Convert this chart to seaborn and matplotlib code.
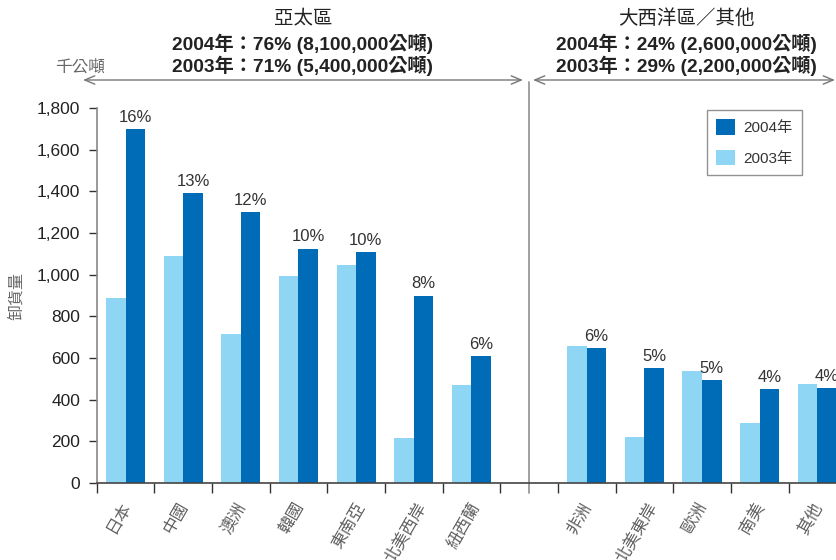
import numpy as np
import pandas as pd
import matplotlib
matplotlib.use("Agg")
import matplotlib.pyplot as plt
from matplotlib.ticker import StrMethodFormatter
from matplotlib.patches import Patch, FancyArrowPatch
from matplotlib.transforms import ScaledTranslation
import seaborn as sns

# ---- data ----
regions = ["日本", "中國", "澳洲", "韓國", "東南亞", "北美西岸", "紐西蘭",
           "非洲", "北美東岸", "歐洲", "南美", "其他"]
n_asia = 7
v2003 = [890, 1090, 715, 995, 1045, 215, 470, 658, 221, 538, 288, 475]
v2004 = [1700, 1390, 1300, 1125, 1110, 900, 610, 648, 552, 494, 451, 456]
share2004 = ["16%", "13%", "12%", "10%", "10%", "8%", "6%",
             "6%", "5%", "5%", "4%", "4%"]
years = ["2003年", "2004年"]
yticks = [0, 200, 400, 600, 800, 1000, 1200, 1400, 1600, 1800]

header_left = ["亞太區", "2004年：76% (8,100,000公噸)", "2003年：71% (5,400,000公噸)"]
header_right = ["大西洋區／其他", "2004年：24% (2,600,000公噸)", "2003年：29% (2,200,000公噸)"]

# ---- style ----
sns.set_theme(style="white")
FAM = ["Liberation Sans", "Noto Sans CJK TC", "DejaVu Sans"]
CJK = ["Noto Sans CJK TC", "DejaVu Sans"]
plt.rcParams["font.family"] = FAM
plt.rcParams["axes.unicode_minus"] = False

LIGHT = "#8fd6f5"
DARK = "#006bb6"

df = pd.DataFrame({
    "地區": regions * 2,
    "年份": [years[0]] * len(regions) + [years[1]] * len(regions),
    "卸貨量": v2003 + v2004,
})
slot_order = regions[:n_asia] + [""] + regions[n_asia:]

W, H = 836, 560
fig = plt.figure(figsize=(W / 100, H / 100), dpi=100)
slot_px = 57.65
ax = fig.add_axes([96.7 / W, 77 / H, 13 * slot_px / W, 375 / H])

sns.barplot(data=df, x="地區", y="卸貨量", hue="年份", order=slot_order,
            hue_order=years, palette=[LIGHT, DARK], width=0.68,
            saturation=1, errorbar=None, ax=ax, legend=False,
            linewidth=0, edgecolor="none")

ax.set_xlim(-0.5, len(slot_order) - 0.5)
ax.set_ylim(0, 1800)
ax.set_yticks(yticks)
ax.yaxis.set_major_formatter(StrMethodFormatter("{x:,.0f}"))
ax.tick_params(axis="y", which="major", length=6, width=1, direction="out",
               color="#333333", labelsize=12.5, labelcolor="#222222", pad=6, left=True)

# x axis: labels at centers, tick marks at boundaries
ax.set_xticks(range(len(slot_order)))
ax.set_xticklabels(slot_order, rotation=60, ha="center", va="top",
                   fontsize=12, color="#606060", family=CJK)
ax.tick_params(axis="x", which="major", length=0, pad=12)
for lbl in ax.get_xticklabels():
    lbl.set_transform(lbl.get_transform() + ScaledTranslation(-7 / 100, 0, fig.dpi_scale_trans))
ax.set_xticks(np.arange(-0.5, len(slot_order), 1), minor=True)
ax.tick_params(axis="x", which="minor", length=7, width=1, direction="out",
               color="#333333", bottom=True)

ax.set_xlabel("")
ax.set_ylabel("卸貨量", fontsize=11.5, color="#666666", family=CJK)
ax.yaxis.set_label_coords((25 - 96.7) / (13 * slot_px), 0.5)

for s in ["top", "right"]:
    ax.spines[s].set_visible(False)
ax.spines["left"].set_color("#888888")
ax.spines["left"].set_linewidth(1.2)
ax.spines["bottom"].set_color("#444444")
ax.spines["bottom"].set_linewidth(1.2)

# percent labels over 2004 bars
bars04 = sorted(ax.containers[1].patches, key=lambda p: p.get_x())
for p, lab in zip(bars04, share2004):
    ax.annotate(lab, (p.get_x() + p.get_width() / 2, p.get_height()),
                xytext=(0, 3), textcoords="offset points", ha="center",
                va="bottom", fontsize=12, color="#333333", annotation_clip=False)

# separator line in the empty slot
sep_x = slot_order.index("")
ax.plot([sep_x, sep_x], [-10 / 375, (483 - 82) / 375],
        transform=ax.get_xaxis_transform(), clip_on=False,
        color="#999999", lw=1.3)

# legend (2004 first)
handles = [Patch(facecolor=DARK, edgecolor="none"),
           Patch(facecolor=LIGHT, edgecolor="none")]
leg = fig.legend(handles, ["2004年", "2003年"], loc="upper left",
                 bbox_to_anchor=(707 / W, 1 - 110 / H), fontsize=11,
                 frameon=True, fancybox=False, edgecolor="#777777",
                 handlelength=1.2, handleheight=1.2, labelspacing=0.95,
                 borderpad=0.6, handletextpad=0.6, borderaxespad=0)
leg.get_frame().set_linewidth(1.0)
for t in leg.get_texts():
    t.set_color("#333333")

# headers
def header(cx, lines):
    fig.text(cx / W, 1 - 18 / H, lines[0], ha="center", va="center",
             fontsize=14, color="#222222")
    fig.text(cx / W, 1 - 44 / H, lines[1], ha="center", va="center",
             fontsize=13.8, fontweight="bold", color="#222222")
    fig.text(cx / W, 1 - 66 / H, lines[2], ha="center", va="center",
             fontsize=13.8, fontweight="bold", color="#222222")

header(303, header_left)
header(686, header_right)

fig.text(80 / W, 1 - 67 / H, "千公噸", ha="center", va="center",
         fontsize=12, color="#666666", family=CJK)

arrow_kw = dict(arrowstyle="<->,head_length=0.6,head_width=0.25",
                mutation_scale=12, color="#777777", lw=1.0,
                shrinkA=0, shrinkB=0)
ay = 1 - 80 / H
fig.add_artist(FancyArrowPatch((83 / W, ay), (523 / W, ay),
               transform=fig.transFigure, **arrow_kw))
fig.add_artist(FancyArrowPatch((533 / W, ay), (835 / W, ay),
               transform=fig.transFigure, **arrow_kw))

fig.savefig("out.png", dpi=100)
